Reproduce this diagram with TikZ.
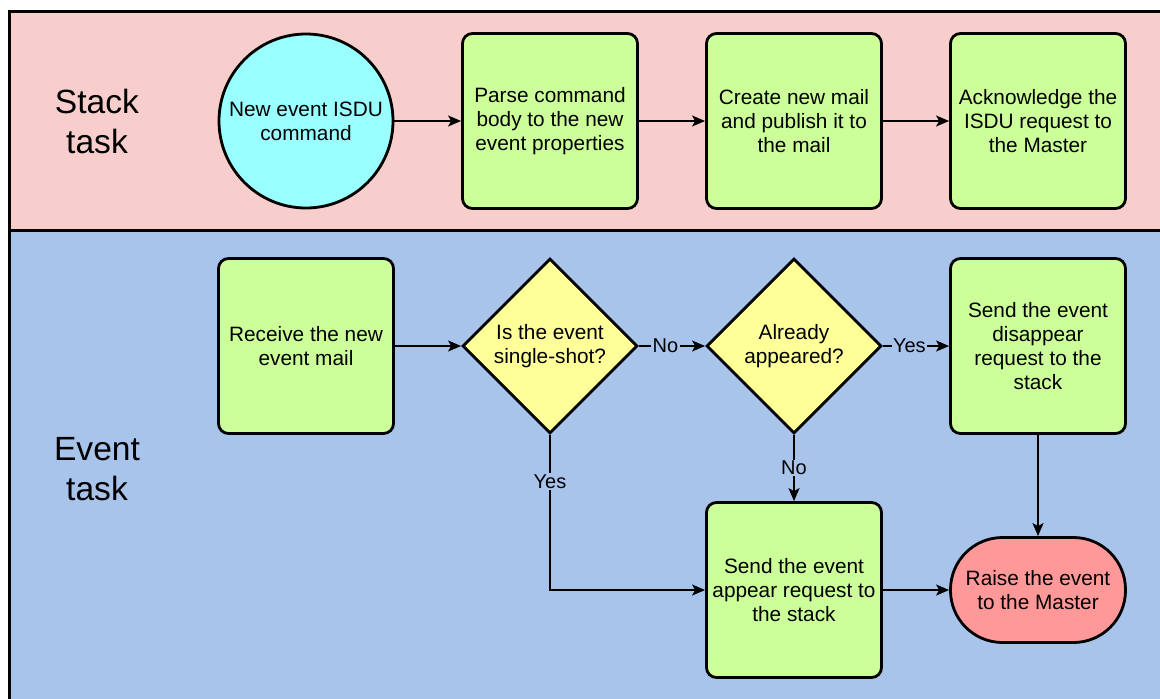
\documentclass[tikz,border=0pt]{standalone}
\usepackage{fontspec}
\setmainfont{Liberation Sans}
\usetikzlibrary{shapes.geometric,arrows.meta}
\definecolor{bandpink}{HTML}{F8CECC}
\definecolor{bandblue}{HTML}{A9C4EB}
\definecolor{cyanfill}{HTML}{99FFFF}
\definecolor{greenfill}{HTML}{CCFF99}
\definecolor{yellowfill}{HTML}{FFFF99}
\definecolor{redfill}{HTML}{FF9999}
\begin{document}
\begin{tikzpicture}[x=1pt,y=-1pt,
  base/.style={draw=black, line width=2.8pt, align=center, inner sep=0pt, font=\fontsize{20.8}{24}\selectfont, text=black},
  procbox/.style={base, rectangle, rounded corners=10pt, fill=greenfill, minimum width=175pt, minimum height=175pt},
  startcirc/.style={base, circle, fill=cyanfill, minimum size=174pt},
  decision/.style={base, diamond, fill=yellowfill, minimum width=175pt, minimum height=175pt, aspect=1},
  terminal/.style={base, rectangle, rounded corners=52pt, fill=redfill, minimum width=175pt, minimum height=105pt},
  conn/.style={line width=1.5pt, -{Stealth[length=13pt,width=11pt,inset=3pt]}},
  lbl/.style={fill=bandblue, inner sep=1.5pt, font=\fontsize{20}{24}\selectfont},
  lane/.style={font=\fontsize{33.6}{40}\selectfont, align=center}
]
\useasboundingbox (0,0) rectangle (1160,699);
\clip (0,0) rectangle (1160,699);
\fill[bandpink] (9.5,11) rectangle (1170,230);
\fill[bandblue] (9.5,230) rectangle (1170,710);
\draw[line width=3pt] (1170,11) -- (9.5,11) -- (9.5,710);
\draw[line width=3pt] (9.5,230) -- (1170,230);

\node[lane] (lst) at (97,121) {Stack\\task};
\node[lane] (let) at (97,469) {Event\\task};

\node[startcirc] (c1) at (306,121) {New event ISDU\\command};
\node[procbox] (p1) at (550,121) {Parse command\\body to the new\\event properties};
\node[procbox] (p2) at (794,121) {Create new mail\\and publish it to\\the mail};
\node[procbox] (p3) at (1038,121) {Acknowledge the\\ISDU request to\\the Master};

\node[procbox] (r1) at (306,346) {Receive the new\\event mail};
\node[decision] (d1) at (550,346) {Is the event\\single-shot?};
\node[decision] (d2) at (794,346) {Already\\appeared?};
\node[procbox] (s1) at (1038,346) {Send the event\\disappear\\request to the\\stack};
\node[procbox] (s2) at (794,590) {Send the event\\appear request to\\the stack};
\node[terminal] (t1) at (1038,590) {Raise the event\\to the Master};

\draw[conn] (c1) -- (p1);
\draw[conn] (p1) -- (p2);
\draw[conn] (p2) -- (p3);
\draw[conn] (r1) -- (d1);
\draw[conn] (d1) -- node[lbl, pos=0.4] {No} (d2);
\draw[conn] (d2) -- node[lbl, pos=0.4] {Yes} (s1);
\draw[conn] (d2.south) -- node[lbl] {No} (s2.north);
\draw[conn] (d1.south) -- node[lbl, pos=0.3] {Yes} (d1.south |- s2.west) -- (s2.west);
\draw[conn] (s1.south) -- (t1.north);
\draw[conn] (s2) -- (t1);
\end{tikzpicture}
\end{document}
